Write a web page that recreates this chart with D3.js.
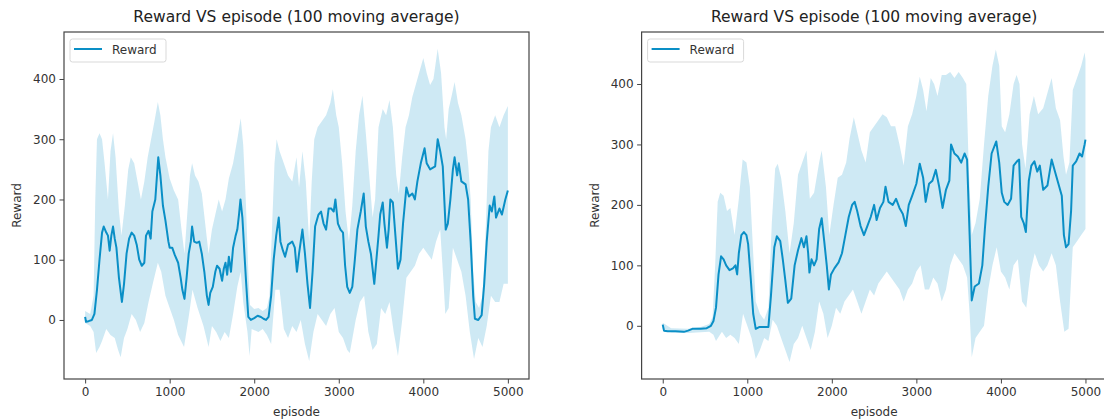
<!DOCTYPE html>
<html>
<head>
<meta charset="utf-8">
<script src="https://cdn.jsdelivr.net/npm/d3@7"></script>
<style>
  body { margin: 0; background: #fff; }
  svg { display: block; font-family: "DejaVu Sans", sans-serif; }
</style>
</head>
<body>
<svg id="chart" width="1104" height="420"></svg>
<script>
"use strict";

// shared labels
const titleText = "Reward VS episode (100 moving average)";
const xLabel = "episode";
const yLabel = "Reward";
const legendLabel = "Reward";
const xTicks = [0, 1000, 2000, 3000, 4000, 5000];
const yTicks = [0, 100, 200, 300, 400];

// left run: [episode, reward]
const leftMean = [[0,5],[10,-3],[40,-2],[80,0],[110,10],[140,50],[170,100],[200,145],[220,155],[250,145],[270,140],[290,115],[310,140],[330,155],[350,135],[370,120],[400,70],[435,30],[460,60],[490,110],[520,135],[550,145],[580,140],[610,125],[640,100],[670,90],[700,95],[720,140],[750,148],[775,135],[795,180],[830,200],[850,240],[865,270],[890,240],[920,190],[950,165],[985,130],[1000,120],[1030,120],[1060,108],[1100,95],[1130,70],[1150,50],[1175,35],[1200,70],[1225,110],[1250,130],[1265,155],[1290,130],[1320,128],[1350,130],[1380,110],[1410,80],[1440,40],[1460,25],[1480,45],[1510,55],[1540,80],[1560,90],[1590,85],[1620,65],[1640,85],[1660,95],[1680,75],[1700,105],[1725,80],[1750,120],[1780,140],[1800,150],[1820,175],[1837,200],[1860,170],[1880,120],[1905,60],[1930,5],[1960,0],[2000,3],[2040,7],[2080,5],[2110,2],[2140,0],[2170,5],[2200,40],[2230,100],[2260,140],[2290,170],[2310,130],[2340,115],[2365,105],[2400,125],[2450,130],[2480,120],[2505,80],[2530,110],[2570,150],[2600,110],[2630,60],[2660,20],[2690,80],[2720,155],[2760,175],[2790,180],[2820,160],[2850,150],[2880,185],[2910,185],[2940,180],[2960,200],[2990,160],[3020,150],[3050,145],[3075,90],[3100,55],[3130,45],[3160,55],[3190,100],[3220,150],[3260,180],[3295,210],[3320,155],[3350,130],[3380,110],[3420,60],[3445,100],[3470,140],[3490,175],[3520,195],[3540,160],[3570,120],[3590,150],[3610,200],[3640,195],[3670,140],[3700,85],[3730,100],[3760,160],[3780,190],[3800,220],[3830,205],[3870,210],[3900,200],[3930,230],[3970,260],[4015,285],[4040,260],[4080,250],[4140,255],[4170,300],[4200,280],[4230,255],[4265,150],[4290,160],[4320,200],[4350,250],[4370,270],[4400,240],[4420,260],[4450,230],[4500,225],[4530,200],[4560,130],[4590,40],[4610,2],[4650,0],[4690,8],[4720,60],[4750,130],[4785,190],[4810,180],[4840,205],[4860,170],[4900,185],[4930,175],[4970,200],[5000,215]];
const leftUpper = [[0,15],[60,10],[100,40],[120,200],[140,300],[170,310],[200,300],[230,260],[270,200],[300,280],[330,310],[360,270],[400,180],[430,140],[470,190],[510,250],[540,270],[580,260],[620,230],[660,200],[700,230],[740,270],[780,300],[820,330],[860,362],[890,340],[920,300],[950,270],[1000,235],[1050,215],[1100,200],[1140,150],[1175,110],[1210,180],[1240,240],[1265,260],[1300,240],[1340,230],[1380,210],[1420,160],[1460,110],[1500,150],[1540,175],[1580,200],[1620,180],[1660,200],[1700,235],[1750,260],[1800,300],[1840,335],[1870,290],[1900,200],[1930,80],[1950,25],[2000,18],[2050,20],[2100,15],[2150,20],[2180,40],[2210,150],[2240,260],[2265,300],[2300,280],[2350,260],[2400,240],[2450,230],[2500,270],[2530,220],[2570,280],[2610,230],[2650,130],[2680,230],[2710,300],[2750,320],[2800,330],[2850,340],[2900,360],[2930,383],[2970,340],[3000,320],[3040,260],[3080,180],[3120,130],[3160,190],[3200,280],[3240,340],[3280,372],[3320,310],[3360,240],[3400,170],[3430,200],[3470,320],[3520,350],[3560,340],[3600,365],[3640,320],[3680,240],[3710,210],[3750,270],[3790,320],[3830,340],[3870,370],[3910,390],[3950,410],[4000,435],[4040,410],[4080,390],[4120,400],[4170,450],[4210,410],[4250,320],[4270,300],[4300,350],[4340,375],[4370,395],[4410,360],[4450,340],[4500,300],[4530,260],[4560,200],[4590,80],[4620,30],[4660,20],[4700,40],[4730,120],[4770,280],[4800,320],[4850,340],[4900,320],[4950,340],[5000,355]];
const leftLower = [[0,-5],[60,-10],[100,-20],[130,-55],[170,-45],[200,-35],[250,-15],[300,-25],[350,-30],[390,-50],[420,-62],[460,-30],[500,-15],[550,10],[600,0],[650,-20],[700,-5],[750,30],[800,60],[860,95],[900,80],[950,40],[1000,20],[1050,0],[1100,-25],[1170,-45],[1230,10],[1270,50],[1330,20],[1400,-10],[1460,-45],[1500,-10],[1550,-20],[1600,-35],[1650,-20],[1700,-30],[1750,10],[1800,55],[1840,80],[1870,30],[1920,-20],[1945,-60],[1970,-15],[2050,-20],[2100,-15],[2150,-25],[2200,-40],[2250,50],[2300,50],[2350,-15],[2400,-30],[2450,-10],[2500,-20],[2550,0],[2600,-40],[2650,-68],[2700,-20],[2750,10],[2800,0],[2850,-10],[2900,10],[2950,20],[3000,-20],[3050,-30],[3100,-50],[3130,-55],[3200,0],[3250,30],[3300,40],[3350,-20],[3400,-50],[3450,-40],[3500,20],[3550,10],[3600,30],[3650,-20],[3700,-60],[3750,0],[3800,70],[3850,80],[3900,90],[3950,110],[4000,120],[4050,110],[4100,100],[4150,130],[4200,150],[4240,60],[4260,10],[4300,20],[4350,120],[4400,100],[4450,80],[4500,40],[4550,-20],[4600,-65],[4650,-30],[4700,-45],[4750,-10],[4800,40],[4850,30],[4900,30],[4950,60],[5000,60]];

// right run
const rightMean = [[0,2],[15,-8],[60,-9],[150,-9],[250,-10],[300,-8],[350,-5],[450,-5],[520,-4],[570,0],[600,8],[630,30],[660,85],[690,115],[720,110],[750,100],[790,92],[830,95],[860,100],[880,85],[900,120],[930,150],[960,155],[990,150],[1010,135],[1040,80],[1070,20],[1100,-5],[1140,-2],[1180,-2],[1250,-2],[1280,50],[1320,130],[1350,148],[1390,140],[1420,110],[1450,75],[1480,38],[1520,45],[1560,100],[1600,125],[1640,145],[1670,130],[1700,148],[1720,120],[1735,88],[1760,110],[1790,100],[1820,110],[1850,160],[1880,178],[1910,140],[1940,100],[1965,60],[1990,85],[2030,95],[2080,105],[2120,120],[2160,150],[2200,180],[2240,200],[2270,205],[2300,190],[2340,165],[2380,150],[2420,165],[2460,180],[2500,200],[2530,175],[2570,195],[2610,205],[2635,230],[2670,205],[2720,200],[2760,210],[2800,195],[2840,185],[2875,165],[2910,200],[2950,215],[3000,235],[3040,268],[3080,245],[3110,205],[3150,235],[3190,240],[3230,258],[3270,230],[3310,195],[3350,225],[3390,240],[3410,300],[3450,285],[3490,280],[3530,270],[3570,285],[3600,275],[3630,150],[3655,42],[3690,65],[3740,70],[3780,100],[3810,160],[3850,230],[3890,285],[3945,305],[3980,270],[4010,220],[4040,205],[4080,200],[4120,210],[4150,265],[4190,272],[4215,275],[4240,180],[4270,170],[4295,155],[4330,240],[4360,265],[4396,272],[4430,255],[4460,265],[4500,225],[4550,232],[4600,275],[4640,255],[4680,235],[4720,215],[4745,150],[4770,130],[4800,135],[4830,190],[4850,265],[4890,272],[4930,285],[4960,280],[4990,300],[5000,308]];
const rightUpper = [[0,5],[100,-4],[300,-5],[450,-2],[550,3],[590,15],[620,100],[650,205],[680,220],[720,215],[760,190],[800,195],[850,150],[900,210],[945,275],[990,270],[1030,230],[1070,120],[1100,40],[1150,20],[1200,10],[1250,30],[1290,170],[1330,260],[1360,268],[1400,245],[1450,190],[1500,120],[1550,170],[1600,250],[1650,270],[1700,290],[1740,210],[1790,220],[1850,270],[1880,290],[1930,230],[1970,150],[2020,200],[2070,245],[2120,250],[2170,270],[2210,310],[2260,345],[2300,320],[2350,290],[2400,270],[2450,320],[2500,330],[2550,340],[2600,350],[2650,345],[2700,330],[2750,330],[2800,300],[2850,265],[2900,330],[2950,350],[3000,380],[3040,412],[3080,390],[3120,355],[3170,410],[3210,400],[3250,380],[3300,415],[3350,415],[3400,420],[3450,410],[3500,420],[3550,410],[3590,400],[3620,260],[3655,150],[3700,170],[3750,210],[3800,300],[3850,380],[3900,430],[3940,457],[3980,430],[4010,330],[4050,320],[4100,350],[4150,400],[4185,415],[4220,400],[4250,300],[4290,260],[4340,350],[4390,380],[4440,350],[4500,360],[4550,385],[4600,410],[4650,360],[4700,340],[4740,280],[4770,250],[4810,270],[4850,390],[4900,410],[4950,430],[4990,452],[5000,440]];
const rightLower = [[0,-5],[100,-11],[300,-12],[550,-10],[600,-15],[630,-25],[700,-10],[750,-20],[800,-15],[850,-20],[900,-30],[950,20],[1000,0],[1050,-20],[1100,-55],[1150,-40],[1200,-20],[1250,-25],[1300,10],[1350,0],[1400,-20],[1450,-40],[1500,-60],[1550,-30],[1600,-20],[1650,0],[1700,-20],[1750,-40],[1800,-10],[1850,40],[1900,20],[1950,-20],[2000,0],[2050,30],[2100,20],[2150,40],[2200,50],[2250,60],[2300,40],[2350,20],[2400,40],[2450,60],[2500,50],[2550,70],[2600,80],[2650,90],[2700,80],[2750,70],[2800,60],[2850,40],[2900,60],[2950,70],[3000,90],[3050,100],[3100,60],[3150,60],[3200,80],[3250,70],[3300,40],[3350,60],[3400,100],[3450,120],[3500,110],[3550,100],[3600,80],[3630,20],[3655,-52],[3700,-20],[3750,-10],[3800,0],[3850,60],[3900,100],[3950,130],[4000,90],[4050,80],[4100,60],[4150,100],[4200,110],[4250,40],[4300,30],[4350,90],[4400,120],[4450,100],[4500,90],[4550,100],[4600,120],[4650,100],[4700,40],[4750,-10],[4800,-5],[4850,130],[4900,140],[4950,150],[5000,160]];

const lineColor = "#0a8fc6";
const bandColor = "#0a8fc6";

const svg = d3.select("#chart");

function drawPanel(p) {
  const x = d3.scaleLinear().domain([-250, 5250]).range([p.left, p.left + p.width]);
  const y = d3.scaleLinear().domain(p.yDomain).range([p.top + p.height, p.top]);
  const g = svg.append("g");

  const line = d3.line().x(d => x(d[0])).y(d => y(d[1]));

  // std band: upper forwards, lower backwards
  const ring = p.upper.concat(p.lower.slice().reverse());
  g.append("path")
    .attr("d", line(ring) + "Z")
    .attr("fill", bandColor)
    .attr("fill-opacity", 0.2)
    .attr("stroke", "none");

  g.append("path")
    .attr("d", line(p.mean))
    .attr("fill", "none")
    .attr("stroke", lineColor)
    .attr("stroke-width", 2)
    .attr("stroke-linejoin", "round");

  // axes
  const xAxis = g.append("g")
    .attr("transform", `translate(0,${p.top + p.height})`)
    .call(d3.axisBottom(x).tickValues(xTicks).tickFormat(d3.format("d"))
      .tickSize(4.5).tickPadding(3.5).tickSizeOuter(0));
  const yAxis = g.append("g")
    .attr("transform", `translate(${p.left},0)`)
    .call(d3.axisLeft(y).tickValues(yTicks).tickFormat(d3.format("d"))
      .tickSize(4.5).tickPadding(3.5).tickSizeOuter(0));
  [xAxis, yAxis].forEach(a => {
    a.select(".domain").remove();
    a.selectAll("line").attr("stroke", "#444").attr("stroke-width", 1);
    a.selectAll("text").attr("fill", "#333").style("font-size", "12px")
      .style("font-family", "DejaVu Sans, sans-serif");
  });

  g.append("rect")
    .attr("x", p.left).attr("y", p.top)
    .attr("width", p.width).attr("height", p.height)
    .attr("fill", "none").attr("stroke", "#444").attr("stroke-width", 1.2);

  g.append("text")
    .attr("x", p.left + p.width / 2).attr("y", 22)
    .attr("text-anchor", "middle")
    .attr("fill", "#222")
    .style("font-size", "15.5px")
    .text(titleText);

  g.append("text")
    .attr("x", p.left + p.width / 2).attr("y", 416)
    .attr("text-anchor", "middle")
    .attr("fill", "#333")
    .style("font-size", "12px")
    .text(xLabel);

  g.append("text")
    .attr("transform", `translate(${p.left - 43},${p.top + p.height / 2}) rotate(-90)`)
    .attr("text-anchor", "middle")
    .attr("fill", "#333")
    .style("font-size", "12px")
    .text(yLabel);

  // legend
  const lg = g.append("g").attr("transform", `translate(${p.left + 6},${p.top + 7})`);
  lg.append("rect")
    .attr("width", 96).attr("height", 23).attr("rx", 2.5)
    .attr("fill", "#fff").attr("fill-opacity", 0.8)
    .attr("stroke", "#d9d9d9").attr("stroke-width", 1);
  lg.append("line")
    .attr("x1", 4).attr("x2", 32).attr("y1", 10).attr("y2", 10)
    .attr("stroke", lineColor).attr("stroke-width", 2);
  lg.append("text")
    .attr("x", 42).attr("y", 14.5)
    .attr("fill", "#333")
    .style("font-size", "12px")
    .text(legendLabel);
}

drawPanel({left: 64, top: 32, width: 465, height: 347, yDomain: [-98, 478],
  mean: leftMean, upper: leftUpper, lower: leftLower});
drawPanel({left: 641.6, top: 32, width: 465, height: 347, yDomain: [-88, 486],
  mean: rightMean, upper: rightUpper, lower: rightLower});
</script>
</body>
</html>
